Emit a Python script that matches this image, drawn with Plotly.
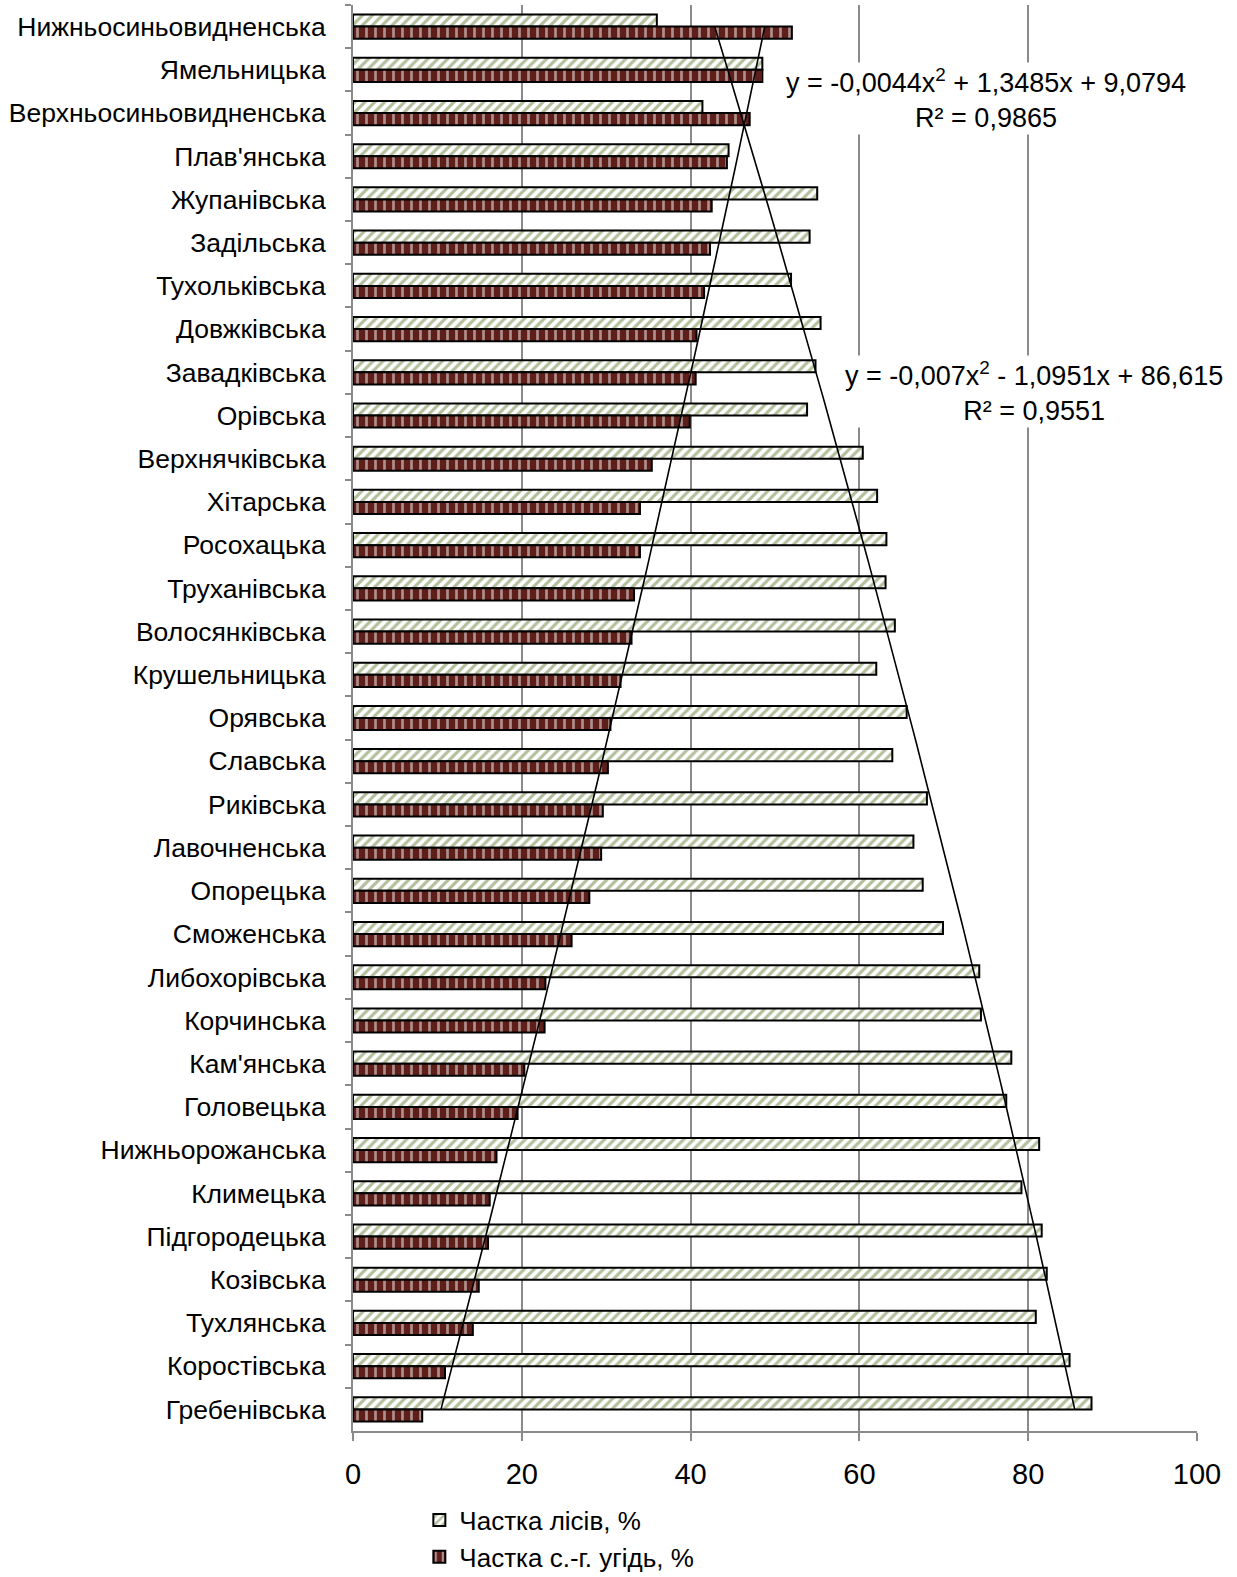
import numpy as np
import plotly.graph_objects as go

# Territorial communities, listed from top to bottom of the chart
communities = [
    "Нижньосиньовидненська", "Ямельницька", "Верхньосиньовидненська", "Плав'янська",
    "Жупанівська", "Задільська", "Тухольківська", "Довжківська", "Завадківська",
    "Орівська", "Верхнячківська", "Хітарська", "Росохацька", "Труханівська",
    "Волосянківська", "Крушельницька", "Орявська", "Славська", "Риківська",
    "Лавочненська", "Опорецька", "Сможенська", "Либохорівська", "Корчинська",
    "Кам'янська", "Головецька", "Нижньорожанська", "Климецька", "Підгородецька",
    "Козівська", "Тухлянська", "Коростівська", "Гребенівська",
]

# Share of forests, %
forest_share = [
    36.0, 48.5, 41.4, 44.5, 55.0, 54.1, 51.9, 55.4, 54.8, 53.8, 60.4, 62.1, 63.2,
    63.1, 64.2, 62.0, 65.6, 63.9, 68.0, 66.4, 67.5, 69.9, 74.2, 74.4, 78.0, 77.4,
    81.3, 79.2, 81.6, 82.2, 80.9, 84.9, 87.5,
]

# Share of agricultural land, %
agri_share = [
    52.0, 48.5, 47.0, 44.3, 42.5, 42.3, 41.6, 40.7, 40.6, 39.9, 35.4, 34.0, 34.0,
    33.3, 33.0, 31.7, 30.5, 30.2, 29.6, 29.4, 28.0, 25.9, 22.8, 22.7, 20.3, 19.5,
    17.0, 16.2, 16.0, 14.9, 14.2, 10.9, 8.2,
]

# Polynomial trend coefficients (a, b, c for y = a*x^2 + b*x + c),
# x = community number counted from the bottom of the chart
forest_trend = [-0.007, -1.0951, 86.615]
agri_trend = [-0.0044, 1.3485, 9.0794]

forest_label = "y = -0,007x<sup>2</sup> - 1,0951x + 86,615<br>R² = 0,9551"
agri_label = "y = -0,0044x<sup>2</sup> + 1,3485x + 9,0794<br>R² = 0,9865"

x_ticks = [0, 20, 40, 60, 80, 100]

FONT = "Liberation Sans, Arial, sans-serif"
FS = 27
GRID = "#8a8a8a"

n = len(communities)

fig = go.Figure()

fig.add_trace(go.Bar(
    y=communities, x=forest_share, orientation="h",
    name="Частка лісів, %",
    marker=dict(
        color="white",
        line=dict(color="black", width=2),
        pattern=dict(shape="/", fgcolor="#66803a", size=7, solidity=0.45,
                     fillmode="overlay"),
    ),
))
# Dark maroon fill broken by thin white vertical stripes
fig.add_trace(go.Bar(
    y=communities, x=agri_share, orientation="h",
    name="Частка с.-г. угідь, %",
    marker=dict(
        color="#5e1e19",
        line=dict(color="black", width=2),
        pattern=dict(shape="|", fgcolor="white", size=9, solidity=0.3,
                     fillmode="overlay"),
    ),
))

# Trend curves drawn on an overlaid numeric axis (1 = bottom community)
k = np.linspace(1, n, 200)
for coef in (forest_trend, agri_trend):
    fig.add_trace(go.Scatter(
        x=np.polyval(coef, k), y=k, yaxis="y2", mode="lines",
        line=dict(color="black", width=1.6), showlegend=False, hoverinfo="skip",
    ))

fig.add_annotation(
    text=agri_label, x=75.0, y=0.960, xref="x", yref="paper",
    showarrow=False, align="center", bgcolor="white",
    font=dict(family=FONT, size=FS, color="black"),
)
fig.add_annotation(
    text=forest_label, x=80.7, y=0.7545, xref="x", yref="paper",
    showarrow=False, align="center", bgcolor="white",
    font=dict(family=FONT, size=FS, color="black"),
)

fig.update_layout(
    width=1237, height=1577,
    margin=dict(l=353, r=40, t=5, b=146, autoexpand=False),
    paper_bgcolor="white", plot_bgcolor="white",
    barmode="group", bargap=0.44, bargroupgap=0.0,
    font=dict(family=FONT, size=FS, color="black"),
    xaxis=dict(
        range=[0, 100], tickvals=x_ticks, ticktext=[str(v) for v in x_ticks],
        showgrid=True, gridcolor=GRID, gridwidth=1.5,
        showline=True, linecolor=GRID, linewidth=2,
        ticks="outside", ticklen=8, tickcolor=GRID, tickwidth=1.5,
        zeroline=False, ticklabelstandoff=8, automargin=False,
        tickfont=dict(family=FONT, size=FS + 2, color="black"),
    ),
    yaxis=dict(
        type="category", range=[n - 0.5, -0.5], tickson="boundaries",
        showline=True, linecolor=GRID, linewidth=2,
        ticks="outside", ticklen=6, tickcolor=GRID, tickwidth=1.5,
        showgrid=False, ticklabelstandoff=20, automargin=False,
        tickfont=dict(family=FONT, size=26.5, color="black"),
    ),
    yaxis2=dict(
        overlaying="y", range=[0.5, n + 0.5], visible=False,
    ),
    legend=dict(
        xref="container", yref="container", x=0.339, y=0.051,
        xanchor="left", yanchor="top", orientation="v",
        font=dict(family=FONT, size=26, color="black"),
        bgcolor="rgba(0,0,0,0)", tracegroupgap=0, itemwidth=30,
    ),
    showlegend=True,
)

fig.write_html("out.html")
